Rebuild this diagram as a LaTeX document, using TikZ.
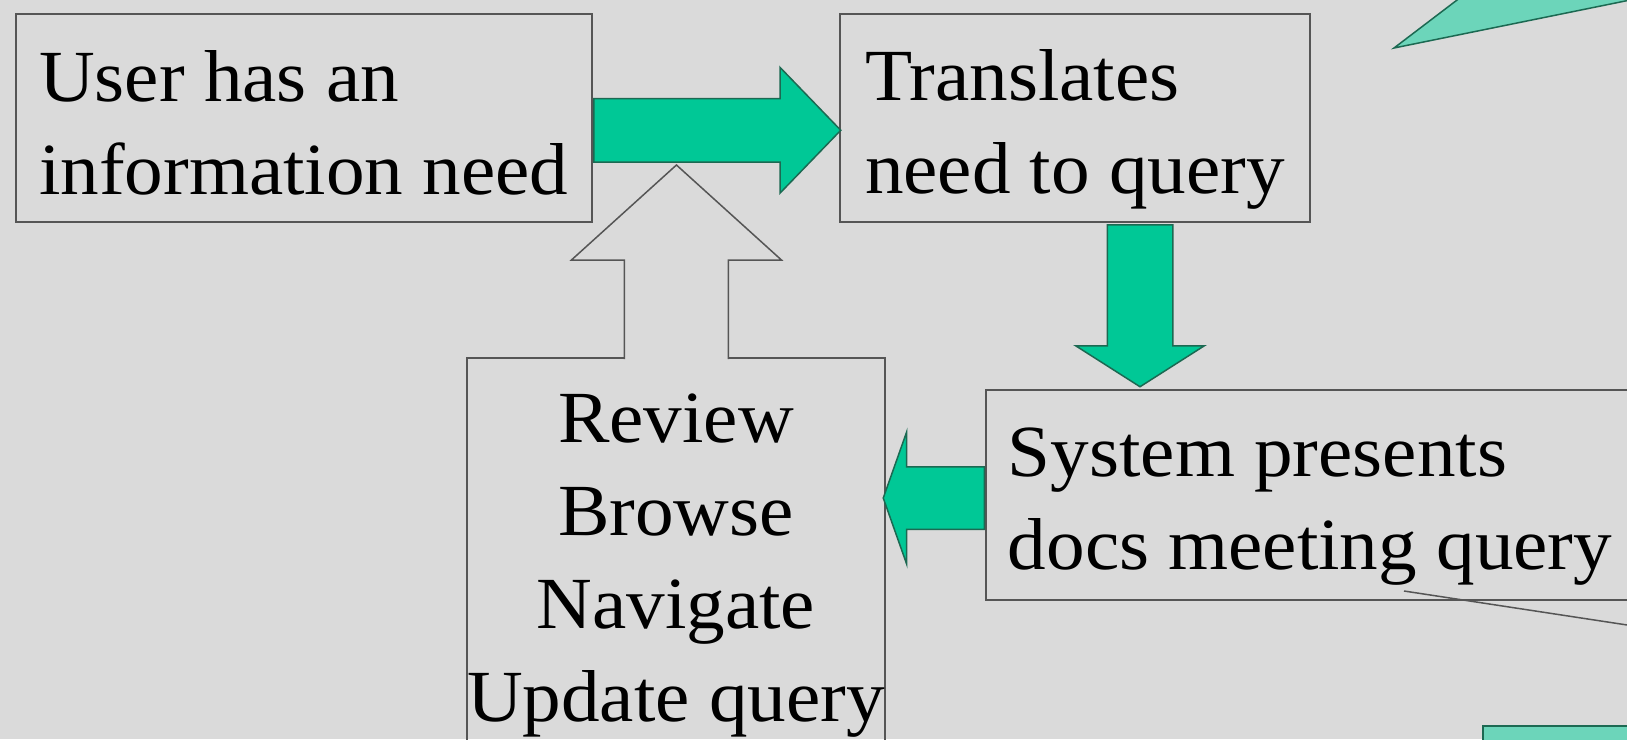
\documentclass[tikz,border=0pt]{standalone}
\usepackage{fontspec}
\setmainfont{Liberation Serif}[FakeStretch=1.05]
\usetikzlibrary{shapes.arrows,calc}

\definecolor{slidebg}{RGB}{218,218,218}
\definecolor{boxline}{RGB}{85,85,85}
\definecolor{arrowgreen}{RGB}{0,200,150}
\definecolor{arrowedge}{RGB}{28,105,82}
\definecolor{calloutgreen}{RGB}{108,213,186}

\tikzset{
  stepbox/.style={draw=boxline, line width=2pt, anchor=north west, inner xsep=0pt, inner ysep=0pt, font=\fontsize{73.5}{93}\selectfont},
  fatarrow/.style={single arrow, fill=arrowgreen, draw=arrowedge, line width=1.5pt, inner xsep=0pt, anchor=tail},
  hollowarrow/.style={fill=slidebg, draw=boxline, line width=1.5pt},
}

\begin{document}
\begin{tikzpicture}[x=1pt,y=1pt,yscale=-1]
\useasboundingbox (0,0) rectangle (1627,739);
\fill[slidebg] (0,0) rectangle (1627,739);
\clip (0,0) rectangle (1627,739);

% Boxes (text height runs down to the last line)
\node[stepbox, align=left, minimum width=576.5pt, text height=181pt, text depth=27.5pt] (need) at (14.5,12.5) {User has an\\information need};
\node[stepbox, align=left, minimum width=470pt, text height=179.5pt, text depth=29pt] (query) at (839,12.5) {Translates\\need to query};
\node[stepbox, align=left, minimum width=648pt, text height=179.6pt, text depth=30.4pt] (docs) at (985,389) {System presents\\docs meeting query};
\node[stepbox, align=center, minimum width=417pt, text height=363pt, text depth=60pt] (review) at (466,357) {Review\\Browse\\Navigate\\Update query};

% Block arrows
\node[fatarrow, inner ysep=31pt, minimum height=247pt, minimum width=124pt, single arrow head extend=31pt, single arrow tip angle=92] (fwd) at ($(need.east)+(0,12.5)$) {};
\node[fatarrow, rotate=-90, inner ysep=32pt, minimum height=162pt, minimum width=127pt, single arrow head extend=31.5pt, single arrow tip angle=115] (down) at ($(query.south)+(65,1)$) {};
\node[fatarrow, rotate=180, inner ysep=30.5pt, minimum height=101pt, minimum width=131pt, single arrow head extend=35pt, single arrow tip angle=141] (back) at ($(docs.west)+(0,3)$) {};

% Hollow arrow back up, open into the review box
\path[hollowarrow] ($(review.north)+(-51.5,2)$) -- ++(0,-99) -- ++(-53,0) -- ++(105,-95) -- ++(105,95) -- ++(-53,0) -- ++(0,99);

% Pieces of callouts cut by the edge
\filldraw[fill=calloutgreen, draw=arrowedge, line width=1.5pt] (1394,48) -- (1461,-3) -- (1645,-3) -- cycle;
\draw[boxline, line width=1.5pt] (1404,591) -- (1660,630);
\filldraw[fill=calloutgreen, draw=arrowedge, line width=1.5pt] (1483,726) rectangle (1650,760);

\end{tikzpicture}
\end{document}
